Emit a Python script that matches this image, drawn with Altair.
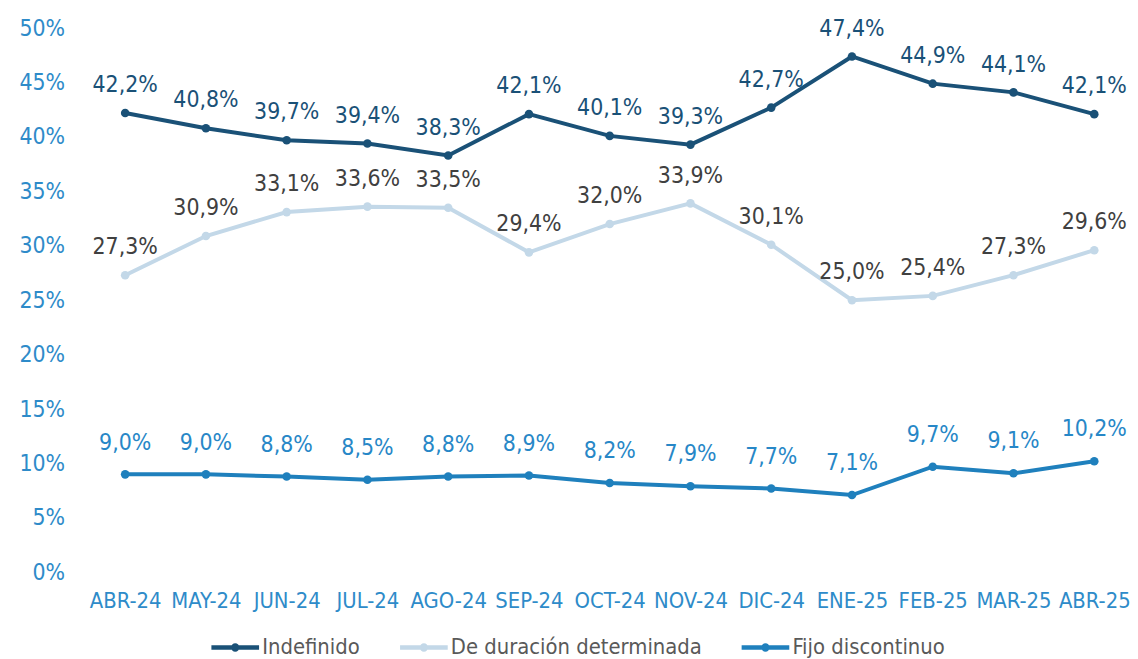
import altair as alt
import pandas as pd

months = ["ABR-24", "MAY-24", "JUN-24", "JUL-24", "AGO-24", "SEP-24", "OCT-24",
          "NOV-24", "DIC-24", "ENE-25", "FEB-25", "MAR-25", "ABR-25"]
series_names = ["Indefinido", "De duración determinada", "Fijo discontinuo"]
indefinido = [42.2, 40.8, 39.7, 39.4, 38.3, 42.1, 40.1, 39.3, 42.7, 47.4, 44.9, 44.1, 42.1]
determinada = [27.3, 30.9, 33.1, 33.6, 33.5, 29.4, 32.0, 33.9, 30.1, 25.0, 25.4, 27.3, 29.6]
fijo = [9.0, 9.0, 8.8, 8.5, 8.8, 8.9, 8.2, 7.9, 7.7, 7.1, 9.7, 9.1, 10.2]

line_colors = ["#1a5177", "#c3d8e8", "#1f80bd"]
label_colors = ["#1a5177", "#404040", "#2787c7"]

rows = []
for name, vals, lc in zip(series_names, [indefinido, determinada, fijo], label_colors):
    for m, v in zip(months, vals):
        rows.append({"month": m, "series": name, "value": v / 100.0, "lcolor": lc})
df = pd.DataFrame(rows)

FONT = "DejaVu Sans Condensed, DejaVu Sans"

x = alt.X("month:N", sort=months,
          scale=alt.Scale(type="point", range=[52, 1028], padding=0),
          axis=alt.Axis(title=None, labelAngle=0, ticks=False, domain=False, grid=False,
                        labelFontSize=22, labelColor="#2e8bc9", labelFont=FONT,
                        labelPadding=18, labelBaseline="top"))
y = alt.Y("value:Q", scale=alt.Scale(domain=[0, 0.5], nice=False),
          axis=alt.Axis(title=None, values=[i * 0.05 for i in range(11)], format=".0%",
                        ticks=False, domain=False, grid=False, labelFontSize=23,
                        labelColor="#2e8bc9", labelFont=FONT, labelPadding=9))

color_scale = alt.Scale(domain=series_names, range=line_colors)

legend_symbol = ("M-0.86,0L1.14,0M0.22,0A0.08,0.08,0,1,1,0.06,0"
                 "A0.08,0.08,0,1,1,0.22,0")

base = alt.Chart(df)

lines = base.mark_line(strokeWidth=4).encode(
    x=x, y=y,
    color=alt.Color("series:N", scale=color_scale,
                    legend=alt.Legend(title=None, orient="none", direction="horizontal",
                                      legendX=133, legendY=597, symbolType=legend_symbol,
                                      symbolSize=2304, symbolStrokeWidth=4.5,
                                      labelFontSize=22, labelFont=FONT, labelColor="#595959",
                                      labelOffset=4, columnPadding=30, padding=0,
                                      labelLimit=400)),
)

points = base.mark_point(filled=True, size=75, opacity=1).encode(
    x=x, y=y,
    color=alt.Color("series:N", scale=color_scale, legend=None),
)

label_expr = "replace(format(datum.value * 100, '.1f'), '.', ',') + '%'"

labels_top = base.transform_filter(alt.datum.series != "Fijo discontinuo").transform_calculate(
    label=label_expr
).mark_text(dy=-28, fontSize=23, font=FONT, baseline="middle").encode(
    x=x, y=y, text="label:N", color=alt.Color("lcolor:N", scale=None)
)

labels_fijo = base.transform_filter(alt.datum.series == "Fijo discontinuo").transform_calculate(
    label=label_expr
).mark_text(dy=-32, fontSize=23, font=FONT, baseline="middle").encode(
    x=x, y=y, text="label:N", color=alt.Color("lcolor:N", scale=None)
)

chart = alt.layer(lines, points, labels_top, labels_fijo).properties(
    width=1062, height=548,
    autosize=alt.AutoSizeParams(type="none"),
    padding={"left": 66, "top": 18, "right": 2, "bottom": 84},
).configure(background="white").configure_view(stroke=None)

chart.save("out.html", embed_options={"renderer": "svg", "actions": False})
